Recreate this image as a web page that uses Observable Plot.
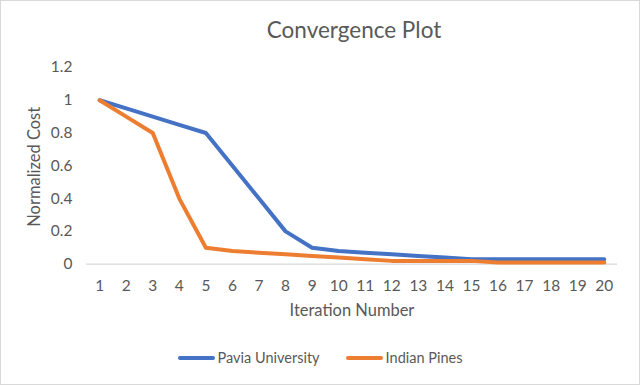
<!DOCTYPE html>
<html>
<head>
<meta charset="utf-8">
<script src="https://cdn.jsdelivr.net/npm/d3@7"></script>
<script src="https://cdn.jsdelivr.net/npm/@observablehq/plot@0.6"></script>
<style>
  html, body { margin: 0; padding: 0; background: #fff; }
  #frame {
    position: relative; width: 638px; height: 383px;
    border: 1px solid #d9d9d9; background: #fff; overflow: hidden;
    font-family: Lato, "Open Sans", sans-serif; color: #595959;
  }
  #title {
    position: absolute; left: 34px; top: 15px; width: 638px; text-align: center;
    font-size: 22.5px; color: #595959;
  }
  #chart { position: absolute; left: -1px; top: 45px; }
  #legend {
    position: absolute; left: 0; top: 348px; width: 638px;
    display: flex; justify-content: center; align-items: center; gap: 0;
    font-size: 14.5px; color: #595959;
  }
  .item { display: flex; align-items: center; margin: 0 13px; }
  .sw { display: inline-block; width: 37px; height: 4px; margin-right: 3px; border-radius: 2px; }
</style>
</head>
<body>
<div id="frame">
  <div id="title">Convergence Plot</div>
  <div id="chart"></div>
  <div id="legend"></div>
</div>
<script>
const iterations = [1,2,3,4,5,6,7,8,9,10,11,12,13,14,15,16,17,18,19,20];
const paviaUniversity = [1,0.95,0.9,0.85,0.8,0.6,0.4,0.2,0.1,0.08,0.07,0.06,0.05,0.04,0.03,0.03,0.03,0.03,0.03,0.03];
const indianPines = [1,0.9,0.8,0.4,0.1,0.08,0.07,0.06,0.05,0.04,0.03,0.02,0.02,0.02,0.02,0.01,0.01,0.01,0.01,0.01];
const seriesNames = ["Pavia University", "Indian Pines"];
const seriesColors = ["#4472C4", "#ED7D31"];
const yTicks = [0, 0.2, 0.4, 0.6, 0.8, 1, 1.2];
const yTickLabels = ["0", "0.2", "0.4", "0.6", "0.8", "1", "1.2"];

const rows = [];
iterations.forEach((it, i) => {
  rows.push({iter: it, value: paviaUniversity[i], series: seriesNames[0]});
  rows.push({iter: it, value: indianPines[i], series: seriesNames[1]});
});

const chart = Plot.plot({
  width: 640,
  height: 290,
  marginLeft: 86,
  marginRight: 22,
  marginTop: 21,
  marginBottom: 72,
  style: {fontFamily: "Lato, 'Open Sans', sans-serif", color: "#595959", background: "transparent"},
  x: {domain: [0.5, 20.5]},
  y: {domain: [0, 1.2]},
  color: {domain: seriesNames, range: seriesColors},
  marks: [
    Plot.ruleY([0], {stroke: "#d9d9d9", strokeWidth: 1.2}),
    Plot.axisY(yTicks, {tickSize: 0, tickPadding: 14, fontSize: 15.5, fill: "#595959",
      tickFormat: (d) => yTickLabels[yTicks.indexOf(d)], label: null}),
    Plot.axisX(iterations, {tickSize: 0, tickPadding: 16, fontSize: 15.5, fill: "#595959",
      tickFormat: (d) => String(d), label: null}),
    Plot.text(["Normalized Cost"], {frameAnchor: "left", textAnchor: "middle", dx: -52, dy: 1, rotate: -90, fontSize: 16.5, fill: "#595959"}),
    Plot.text(["Iteration Number"], {frameAnchor: "bottom", dy: 52, fontSize: 16.5, fill: "#595959"}),
    Plot.line(rows, {x: "iter", y: "value", z: "series", stroke: "series",
      strokeWidth: 4, strokeLinejoin: "round", strokeLinecap: "round"})
  ]
});
document.getElementById("chart").appendChild(chart);

const legend = document.getElementById("legend");
seriesNames.forEach((name, i) => {
  const item = document.createElement("div");
  item.className = "item";
  const sw = document.createElement("span");
  sw.className = "sw";
  sw.style.background = seriesColors[i];
  const lab = document.createElement("span");
  lab.textContent = name;
  item.appendChild(sw); item.appendChild(lab);
  legend.appendChild(item);
});
</script>
</body>
</html>
